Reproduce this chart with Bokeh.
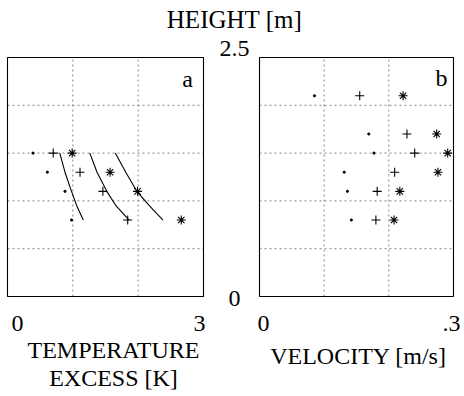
from bokeh.plotting import figure
from bokeh.models import Range1d, Label
from bokeh.embed import file_html
from bokeh.resources import INLINE

# ---------------- data ----------------
# panel a: temperature excess [K] vs height [m]
HEIGHT_A = [1.5, 1.3, 1.1, 0.8]
TEMP_DOT = [0.39, 0.61, 0.88, 0.98]
TEMP_PLUS = [0.70, 1.11, 1.46, 1.84]
TEMP_STAR = [0.99, 1.57, 1.99, 2.66]

CURVE_H = [1.5, 1.3, 1.1, 0.95, 0.8]
CURVE_1 = [0.80, 0.88, 0.98, 1.06, 1.16]
CURVE_2 = [1.26, 1.37, 1.52, 1.66, 1.86]
CURVE_3 = [1.65, 1.81, 1.98, 2.17, 2.38]

# panel b: velocity [m/s] vs height [m]
HEIGHT_B = [2.1, 1.7, 1.5, 1.3, 1.1, 0.8]
VEL_DOT = [0.085, 0.169, 0.177, 0.131, 0.136, 0.142]
VEL_PLUS = [0.155, 0.228, 0.240, 0.209, 0.182, 0.180]
VEL_STAR = [0.222, 0.274, 0.291, 0.276, 0.217, 0.208]

# axes
TEMP_LIM = [0, 3]
VEL_LIM = [0, 0.3]
H_LIM = [0, 2.5]
TEMP_GRID = [1, 2]
VEL_GRID = [0.1, 0.2]
H_GRID = [0.5, 1.0, 1.5, 2.0]
TEMP_TICKS = [0, 3]
TEMP_TICK_LABELS = ["0", "3"]
VEL_TICKS = [0, 0.3]
VEL_TICK_LABELS = ["0", ".3"]
H_TICKS = [0, 2.5]
H_TICK_LABELS = ["0", "2.5"]

TITLE_Y = "HEIGHT [m]"
TITLE_A = ["TEMPERATURE", "EXCESS [K]"]
TITLE_B = "VELOCITY [m/s]"
PANEL_TAGS = ["a", "b"]

# ---------------- layout (pixels) ----------------
W, H = 464, 396
A_LEFT, A_RIGHT = 7, 203
B_LEFT, B_RIGHT = 259, 453
P_TOP, P_BOTTOM = 57, 296
MID_X = 234
FONT = "Liberation Serif"
FS = "24px"


def make_range(v0, v1, p0, p1, total):
    k = (p1 - p0) / (v1 - v0)
    start = v0 - p0 / k
    return Range1d(start, start + total / k)


x_rng = make_range(TEMP_LIM[0], TEMP_LIM[1], A_LEFT, A_RIGHT, W)
v_rng = make_range(VEL_LIM[0], VEL_LIM[1], B_LEFT, B_RIGHT, W)
y_rng = make_range(H_LIM[0], H_LIM[1], H - P_BOTTOM, H - P_TOP, H)

p = figure(width=W, height=H, x_range=x_rng, y_range=y_rng,
           min_border=0, x_axis_location=None, y_axis_location=None,
           toolbar_location=None, output_backend="svg",
           outline_line_color=None, background_fill_color="white")
p.extra_x_ranges = {"vel": v_rng}
p.grid.visible = False

GRID_KW = dict(line_color="#666666", line_width=0.8, line_dash="2 3")

for rname, lim, grid in (("default", TEMP_LIM, TEMP_GRID), ("vel", VEL_LIM, VEL_GRID)):
    # vertical grid lines
    p.segment(x0=grid, y0=[H_LIM[0]] * len(grid), x1=grid, y1=[H_LIM[1]] * len(grid),
              x_range_name=rname, **GRID_KW)
    # horizontal grid lines
    p.segment(x0=[lim[0]] * len(H_GRID), y0=H_GRID, x1=[lim[1]] * len(H_GRID), y1=H_GRID,
              x_range_name=rname, **GRID_KW)
    # panel frame
    p.quad(left=[lim[0]], right=[lim[1]], bottom=[H_LIM[0]], top=[H_LIM[1]],
           fill_color=None, line_color="black", line_width=1.1, x_range_name=rname)

# panel a
for cx in (CURVE_1, CURVE_2, CURVE_3):
    p.line(cx, CURVE_H, line_color="black", line_width=1.1)
p.scatter(TEMP_DOT, HEIGHT_A, marker="circle", size=2.2, color="black")
p.scatter(TEMP_PLUS, HEIGHT_A, marker="cross", size=9, line_color="black", line_width=1.1)
p.scatter(TEMP_STAR, HEIGHT_A, marker="asterisk", size=9, line_color="black", line_width=1.1)

# panel b
p.scatter(VEL_DOT, HEIGHT_B, marker="circle", size=2.2, color="black", x_range_name="vel")
p.scatter(VEL_PLUS, HEIGHT_B, marker="cross", size=9, line_color="black", line_width=1.1,
          x_range_name="vel")
p.scatter(VEL_STAR, HEIGHT_B, marker="asterisk", size=9, line_color="black", line_width=1.1,
          x_range_name="vel")

TXT = dict(text_font=FONT, text_font_size=FS, text_color="black")


def add(text, x, y, xu="screen", yu="screen", rname="default", align="center",
        baseline="alphabetic", xoff=0, yoff=0, size=FS):
    p.add_layout(Label(x=x, y=y, x_units=xu, y_units=yu, x_range_name=rname, text=text,
                       text_align=align, text_baseline=baseline, x_offset=xoff, y_offset=yoff,
                       text_font=FONT, text_font_size=size, text_color="black"))


# x tick labels
for t, lab, xo in zip(TEMP_TICKS, TEMP_TICK_LABELS, (10, -4)):
    add(lab, t, H - 323, xu="data", xoff=xo)
for t, lab, xo in zip(VEL_TICKS, VEL_TICK_LABELS, (4, -2)):
    add(lab, t, H - 323, xu="data", rname="vel", xoff=xo)
# y tick labels (between the panels)
add(H_TICK_LABELS[1], MID_X, H_TICKS[1], yu="data", yoff=9)
add(H_TICK_LABELS[0], MID_X, H_TICKS[0], yu="data", baseline="middle", yoff=-2)
# axis titles
add(TITLE_Y, MID_X, H - 19, size="25px")
add(TITLE_A[0], (A_LEFT + A_RIGHT) / 2 + 8, H - 349)
add(TITLE_A[1], (A_LEFT + A_RIGHT) / 2 + 8, H - 377)
add(TITLE_B, (B_LEFT + B_RIGHT) / 2 + 2, H - 355)
# panel tags
add(PANEL_TAGS[0], A_RIGHT - 16, H - 78)
add(PANEL_TAGS[1], B_RIGHT - 12, H - 77)

open("out.html", "w").write(file_html(p, INLINE))
